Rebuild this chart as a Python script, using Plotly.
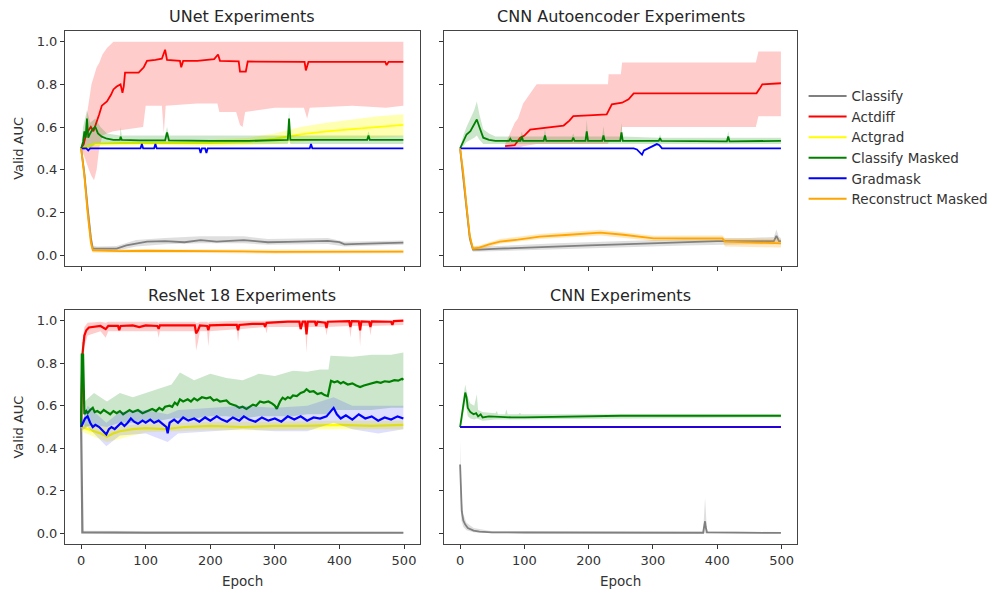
import plotly.graph_objects as go

# ---------------- data (epoch, value) ----------------
SERIES = ["Classify", "Actdiff", "Actgrad", "Classify Masked", "Gradmask", "Reconstruct Masked"]
COLORS = ["#808080", "#ff0000", "#ffff00", "#008000", "#0000ff", "#ffa500"]
BAND_RGBA = ["rgba(128,128,128,0.25)", "rgba(255,0,0,0.2)", "rgba(255,255,0,0.3)",
             "rgba(0,128,0,0.2)", "rgba(0,0,255,0.13)", "rgba(255,165,0,0.25)"]
TITLES = ["UNet Experiments", "CNN Autoencoder Experiments", "ResNet 18 Experiments", "CNN Experiments"]
X_TICKS = [0, 100, 200, 300, 400, 500]
Y_TICKS = [0.0, 0.2, 0.4, 0.6, 0.8, 1.0]

# ---- UNet ----
U_CLS = [(0,0.50),(5,0.38),(10,0.22),(15,0.08),(18,0.03),(25,0.03),(40,0.028),(55,0.03),(70,0.045),(85,0.055),
         (102,0.063),(130,0.065),(160,0.06),(185,0.07),(210,0.063),(230,0.066),(252,0.07),(270,0.065),(289,0.06),
         (320,0.062),(350,0.063),(382,0.066),(400,0.06),(408,0.05),(430,0.052),(460,0.055),(499,0.058)]
U_CLS_BAND = [(0,0.50,0.50),(5,0.34,0.42),(10,0.17,0.27),(15,0.05,0.12),(18,0.02,0.045),(25,0.02,0.04),(55,0.02,0.042),
              (85,0.04,0.07),(130,0.05,0.08),(185,0.055,0.088),(252,0.055,0.088),(289,0.048,0.075),(382,0.052,0.08),
              (408,0.04,0.062),(460,0.045,0.066),(499,0.048,0.068)]
U_ACTDIFF = [(0,0.50),(4,0.52),(8,0.57),(12,0.59),(15,0.60),(19,0.58),(24,0.62),(28,0.66),(32,0.70),(40,0.72),(46,0.75),
             (50,0.776),(55,0.79),(61,0.80),(64,0.76),(66,0.79),(68,0.855),(75,0.855),(89,0.855),(97,0.88),(102,0.91),
             (115,0.915),(125,0.92),(130,0.962),(133,0.915),(153,0.91),(155,0.88),(158,0.91),(180,0.91),(206,0.918),
             (212,0.94),(215,0.91),(244,0.908),(246,0.86),(255,0.86),(258,0.907),(300,0.907),(346,0.905),(348,0.865),
             (352,0.905),(400,0.905),(471,0.905),(473,0.89),(476,0.905),(499,0.905)]
U_ACTDIFF_BAND = [(0,0.50,0.50),(4,0.47,0.56),(8,0.44,0.64),(12,0.40,0.72),(16,0.37,0.80),(20,0.35,0.84),(24,0.40,0.88),
                  (28,0.50,0.90),(33,0.56,0.94),(40,0.57,0.97),(50,0.58,1.0),(75,0.59,1.0),(96,0.60,1.0),(100,0.70,1.0),
                  (125,0.70,1.0),(128,0.57,1.0),(131,0.70,1.0),(180,0.71,1.0),(211,0.71,1.0),(214,0.67,1.0),(240,0.67,1.0),
                  (246,0.61,1.0),(250,0.60,1.0),(254,0.67,1.0),(300,0.69,1.0),(345,0.69,1.0),(350,0.64,1.0),(354,0.69,1.0),
                  (420,0.70,1.0),(472,0.69,1.0),(499,0.70,1.0)]
U_ACTGRAD = [(0,0.50),(20,0.52),(60,0.525),(120,0.525),(200,0.525),(260,0.53),(300,0.545),(340,0.565),(380,0.58),
             (420,0.59),(460,0.60),(499,0.61)]
U_ACTGRAD_BAND = [(0,0.50,0.50),(20,0.51,0.53),(120,0.515,0.535),(200,0.51,0.54),(260,0.515,0.55),(300,0.52,0.57),
                  (340,0.53,0.60),(380,0.54,0.62),(420,0.545,0.635),(460,0.55,0.65),(499,0.555,0.66)]
U_CLSM = [(0,0.50),(3,0.53),(5,0.58),(7,0.55),(9,0.64),(11,0.55),(14,0.57),(18,0.59),(22,0.60),(26,0.57),(32,0.555),
          (40,0.545),(50,0.54),(60,0.54),(61,0.555),(63,0.54),(90,0.537),(130,0.537),(133,0.575),(136,0.537),(200,0.535),
          (260,0.535),(320,0.54),(322,0.64),(324,0.54),(380,0.54),(443,0.54),(445,0.56),(447,0.54),(499,0.54)]
U_CLSM_BAND = [(0,0.50,0.50),(3,0.49,0.60),(9,0.50,0.68),(14,0.50,0.62),(22,0.52,0.64),(30,0.52,0.60),(40,0.52,0.57),
               (60,0.52,0.56),(61,0.52,0.60),(63,0.52,0.56),(130,0.52,0.56),(133,0.52,0.60),(136,0.52,0.56),(320,0.52,0.56),
               (322,0.55,0.68),(324,0.52,0.56),(443,0.52,0.56),(445,0.52,0.58),(447,0.52,0.56),(499,0.52,0.56)]
U_GRADMASK = [(0,0.50),(8,0.50),(11,0.49),(14,0.50),(92,0.50),(94,0.52),(96,0.50),(113,0.50),(115,0.52),(117,0.50),
              (183,0.50),(185,0.478),(187,0.50),(192,0.50),(194,0.478),(196,0.50),(354,0.50),(356,0.52),(358,0.50),(499,0.50)]
U_RECON = [(0,0.50),(5,0.37),(10,0.20),(15,0.06),(18,0.022),(30,0.02),(60,0.018),(100,0.02),(150,0.02),(200,0.018),
           (250,0.017),(300,0.015),(350,0.016),(400,0.016),(450,0.015),(499,0.016)]
U_RECON_BAND = [(0,0.50,0.50),(5,0.33,0.41),(10,0.16,0.24),(15,0.04,0.09),(18,0.012,0.032),(60,0.01,0.027),
                (200,0.01,0.026),(300,0.006,0.023),(499,0.008,0.025)]

# ---- CNN Autoencoder ----
A_CLS = [(0,0.50),(5,0.37),(10,0.22),(15,0.08),(20,0.025),(30,0.025),(60,0.03),(100,0.035),(150,0.04),(200,0.045),
         (250,0.05),(300,0.055),(350,0.06),(400,0.065),(450,0.065),(488,0.065),(492,0.09),(496,0.065),(499,0.065)]
A_CLS_BAND = [(0,0.50,0.50),(5,0.33,0.41),(10,0.18,0.26),(15,0.06,0.11),(20,0.015,0.04),(60,0.018,0.042),(150,0.025,0.055),
              (250,0.035,0.065),(350,0.045,0.075),(450,0.05,0.08),(488,0.05,0.085),(492,0.06,0.12),(496,0.05,0.085),(499,0.05,0.08)]
A_ACTDIFF = [(70,0.51),(85,0.515),(93,0.549),(100,0.56),(109,0.588),(130,0.595),(161,0.607),(170,0.63),(176,0.651),
             (200,0.655),(228,0.659),(236,0.706),(252,0.714),(262,0.73),(270,0.758),(320,0.758),(400,0.758),(461,0.758),
             (466,0.78),(470,0.80),(499,0.805)]
A_ACTDIFF_BAND = [(70,0.50,0.52),(85,0.50,0.62),(90,0.50,0.64),(98,0.51,0.71),(119,0.52,0.80),(230,0.52,0.80),
                  (231,0.53,0.847),(250,0.53,0.847),(252,0.60,0.902),(460,0.60,0.902),(464,0.65,0.954),(499,0.65,0.954)]
A_CLSM = [(0,0.50),(5,0.53),(10,0.565),(16,0.58),(22,0.61),(26,0.635),(30,0.60),(36,0.55),(45,0.54),(55,0.535),(76,0.535),
          (78,0.545),(80,0.535),(94,0.535),(96,0.555),(98,0.535),(130,0.535),(132,0.56),(134,0.535),(174,0.535),(176,0.55),
          (178,0.535),(195,0.535),(197,0.58),(199,0.535),(221,0.535),(223,0.56),(225,0.535),(249,0.535),(251,0.575),
          (253,0.535),(309,0.535),(311,0.548),(313,0.535),(415,0.533),(417,0.555),(419,0.533),(499,0.535)]
A_CLSM_BAND = [(0,0.50,0.50),(5,0.51,0.56),(10,0.53,0.60),(16,0.54,0.64),(22,0.55,0.68),(26,0.56,0.72),(30,0.54,0.66),
               (36,0.52,0.59),(45,0.52,0.57),(55,0.52,0.555),(76,0.52,0.555),(78,0.52,0.56),(80,0.52,0.555),(94,0.52,0.555),
               (96,0.52,0.58),(98,0.52,0.555),(130,0.52,0.555),(132,0.52,0.59),(134,0.52,0.555),(174,0.52,0.555),
               (176,0.52,0.57),(178,0.52,0.555),(195,0.52,0.555),(197,0.52,0.635),(199,0.52,0.555),(221,0.52,0.555),
               (223,0.52,0.605),(225,0.52,0.555),(249,0.52,0.555),(251,0.52,0.62),(253,0.52,0.555),(309,0.52,0.55),
               (311,0.52,0.565),(313,0.52,0.55),(415,0.52,0.55),(417,0.52,0.58),(419,0.52,0.55),(499,0.52,0.55)]
A_GRADMASK = [(0,0.50),(270,0.50),(275,0.495),(280,0.48),(283,0.47),(286,0.49),(292,0.50),(300,0.51),(306,0.52),
              (310,0.515),(314,0.50),(499,0.50)]
A_RECON = [(0,0.50),(5,0.38),(10,0.23),(15,0.09),(20,0.03),(30,0.035),(45,0.05),(62,0.063),(90,0.072),(124,0.086),
           (170,0.095),(218,0.105),(254,0.095),(301,0.078),(350,0.078),(408,0.078),(412,0.063),(450,0.06),(499,0.055)]
A_RECON_BAND = [(0,0.50,0.50),(5,0.34,0.42),(10,0.19,0.27),(15,0.06,0.12),(20,0.02,0.04),(30,0.025,0.045),(62,0.053,0.075),
                (124,0.075,0.098),(218,0.092,0.118),(301,0.066,0.09),(408,0.066,0.092),(412,0.04,0.08),(499,0.035,0.075)]

# ---- ResNet 18 ----
R_CLS = [(0,0.50),(1,0.25),(2,0.005),(100,0.003),(300,0.003),(499,0.003)]
R_CLS_BAND = [(0,0.0,0.50),(2,0.0,0.012),(499,0.0,0.006)]
R_ACTDIFF = [(0,0.50),(1,0.72),(2,0.84),(5,0.93),(8,0.955),(12,0.968),(20,0.972),(30,0.975),(38,0.96),(42,0.975),
             (57,0.975),(59,0.955),(61,0.975),(80,0.978),(90,0.97),(100,0.978),(118,0.975),(120,0.962),(122,0.978),
             (150,0.978),(176,0.978),(178,0.94),(181,0.955),(184,0.978),(195,0.975),(197,0.955),(199,0.978),(225,0.98),
             (241,0.98),(243,0.955),(245,0.98),(265,0.985),(283,0.985),(285,0.97),(287,0.99),(320,0.995),(338,0.995),
             (340,0.96),(343,0.995),(347,0.995),(349,0.935),(351,0.995),(362,0.995),(364,0.975),(366,0.995),(378,0.99),
             (380,0.965),(382,0.995),(415,0.998),(417,0.97),(419,0.998),(430,0.997),(432,0.955),(434,0.997),(446,0.995),
             (448,0.97),(450,0.997),(480,0.995),(482,0.98),(484,0.998),(499,1.0)]
R_ACTDIFF_BAND = [(0,0.50,0.50),(2,0.70,0.90),(5,0.88,0.97),(10,0.93,0.99),(30,0.95,0.995),(38,0.92,0.99),(42,0.95,0.995),
                  (118,0.95,0.995),(120,0.92,0.99),(122,0.95,0.995),(176,0.95,0.995),(178,0.86,0.99),(181,0.90,0.99),
                  (184,0.95,0.995),(195,0.95,0.995),(197,0.88,0.99),(199,0.95,0.995),(241,0.96,1.0),(243,0.90,1.0),
                  (245,0.96,1.0),(285,0.97,1.0),(287,0.94,1.0),(289,0.97,1.0),(347,0.97,1.0),(349,0.85,1.0),(351,0.97,1.0),
                  (378,0.97,1.0),(380,0.93,1.0),(382,0.97,1.0),(415,0.975,1.0),(417,0.92,1.0),(419,0.975,1.0),
                  (430,0.975,1.0),(432,0.88,1.0),(434,0.975,1.0),(446,0.975,1.0),(448,0.93,1.0),(450,0.975,1.0),(499,0.98,1.0)]
R_ACTGRAD = [(0,0.50),(10,0.49),(20,0.48),(30,0.47),(40,0.455),(50,0.47),(60,0.48),(80,0.49),(100,0.495),(130,0.49),
             (160,0.50),(200,0.505),(250,0.50),(300,0.505),(350,0.505),(400,0.51),(450,0.505),(499,0.51)]
R_ACTGRAD_BAND = [(0,0.48,0.52),(40,0.43,0.50),(100,0.475,0.515),(200,0.485,0.525),(300,0.485,0.525),(400,0.49,0.53),
                  (499,0.49,0.53)]
R_CLSM = [(0,0.50),(1,0.84),(3,0.84),(5,0.56),(8,0.575),(10,0.565),(14,0.58),(18,0.59),(21,0.57),(25,0.575),(30,0.565),
          (35,0.58),(40,0.57),(45,0.56),(50,0.575),(55,0.565),(60,0.575),(65,0.56),(70,0.57),(75,0.58),(80,0.57),
          (88,0.58),(95,0.565),(102,0.575),(110,0.585),(116,0.575),(121,0.59),(126,0.58),(130,0.595),(137,0.60),
          (141,0.595),(145,0.615),(149,0.605),(153,0.63),(158,0.62),(165,0.63),(170,0.62),(175,0.635),(180,0.625),
          (187,0.64),(194,0.635),(200,0.64),(205,0.625),(210,0.63),(215,0.62),(225,0.625),(230,0.61),(235,0.605),
          (240,0.60),(245,0.59),(250,0.595),(256,0.585),(261,0.595),(266,0.605),(271,0.60),(277,0.62),(283,0.615),
          (290,0.62),(296,0.61),(300,0.60),(303,0.585),(308,0.62),(312,0.638),(316,0.63),(320,0.64),(324,0.635),
          (328,0.648),(334,0.645),(340,0.66),(345,0.665),(349,0.678),(354,0.665),(360,0.668),(366,0.655),(372,0.66),
          (377,0.65),(382,0.645),(384,0.68),(387,0.717),(392,0.71),(397,0.715),(402,0.705),(406,0.712),(413,0.70),
          (420,0.705),(426,0.695),(432,0.688),(438,0.695),(445,0.70),(451,0.705),(458,0.712),(464,0.708),(470,0.715),
          (477,0.712),(485,0.72),(491,0.718),(497,0.727),(499,0.722)]
R_CLSM_BAND = [(0,0.50,0.50),(1,0.70,0.90),(3,0.70,0.90),(5,0.50,0.62),(20,0.51,0.66),(40,0.50,0.62),(60,0.52,0.66),
               (80,0.52,0.64),(100,0.53,0.66),(121,0.53,0.68),(140,0.54,0.70),(153,0.54,0.756),(175,0.54,0.72),
               (200,0.55,0.75),(225,0.55,0.73),(250,0.54,0.72),(275,0.55,0.75),(300,0.55,0.74),(328,0.55,0.765),
               (350,0.56,0.76),(370,0.56,0.77),(383,0.56,0.77),(386,0.58,0.835),(420,0.58,0.83),(450,0.58,0.84),
               (480,0.59,0.84),(499,0.59,0.85)]
R_GRADMASK = [(0,0.50),(3,0.52),(6,0.54),(10,0.55),(14,0.52),(18,0.50),(22,0.51),(28,0.50),(34,0.48),(39,0.465),(43,0.49),
              (47,0.50),(52,0.49),(58,0.51),(62,0.52),(67,0.505),(72,0.52),(77,0.54),(82,0.525),(88,0.515),(95,0.53),
              (100,0.52),(107,0.535),(113,0.52),(120,0.53),(126,0.515),(132,0.50),(134,0.47),(137,0.52),(144,0.535),
              (150,0.52),(158,0.545),(166,0.53),(175,0.54),(183,0.525),(192,0.545),(200,0.53),(210,0.55),(218,0.535),
              (226,0.525),(235,0.545),(245,0.53),(252,0.55),(260,0.535),(270,0.525),(280,0.545),(290,0.53),(300,0.54),
              (310,0.525),(320,0.55),(330,0.535),(340,0.55),(350,0.53),(360,0.545),(370,0.54),(380,0.55),(386,0.57),
              (391,0.59),(396,0.56),(402,0.54),(410,0.555),(420,0.535),(430,0.56),(440,0.54),(450,0.55),(460,0.53),
              (470,0.545),(480,0.535),(490,0.55),(499,0.54)]
R_GRADMASK_BAND = [(0,0.48,0.52),(10,0.50,0.60),(39,0.41,0.52),(60,0.46,0.57),(100,0.47,0.58),(134,0.43,0.56),
                   (150,0.47,0.58),(200,0.48,0.59),(250,0.49,0.60),(300,0.48,0.59),(350,0.48,0.60),(391,0.52,0.64),
                   (420,0.49,0.60),(460,0.47,0.60),(499,0.49,0.60)]

# ---- CNN ----
C_CLS = [(0,0.324),(1,0.20),(2.6,0.104),(5,0.06),(8,0.041),(12,0.025),(21,0.013),(30,0.008),(50,0.005),(100,0.004),
         (200,0.003),(300,0.003),(378,0.003),(380,0.04),(381,0.057),(382,0.03),(384,0.005),(499,0.002)]
C_CLS_BAND = [(0,0.20,0.434),(2,0.06,0.17),(5,0.03,0.09),(10,0.015,0.05),(21,0.005,0.025),(50,0.0,0.01),(378,0.0,0.008),
              (381,0.0,0.167),(384,0.0,0.01),(499,0.0,0.006)]
C_ACTDIFF = [(0,0.50),(499,0.50)]
C_CLSM = [(0,0.50),(3,0.56),(6,0.63),(8,0.662),(10,0.64),(12,0.59),(16,0.57),(21,0.56),(25,0.565),(28,0.55),(32,0.56),
          (35,0.545),(45,0.55),(57,0.548),(80,0.545),(100,0.545),(150,0.548),(200,0.552),(250,0.553),(300,0.553),
          (400,0.554),(450,0.553),(499,0.553)]
C_CLSM_BAND = [(0,0.50,0.50),(3,0.52,0.60),(8,0.62,0.70),(12,0.55,0.64),(16,0.54,0.61),(22,0.535,0.60),(26,0.54,0.654),
               (28,0.535,0.58),(35,0.53,0.57),(55,0.535,0.565),(57,0.535,0.575),(59,0.535,0.56),(70,0.535,0.56),
               (72,0.535,0.583),(74,0.535,0.56),(91,0.535,0.56),(93,0.535,0.567),(95,0.535,0.56),(200,0.54,0.56),
               (499,0.545,0.56)]
C_GRADMASK = [(0,0.50),(499,0.50)]

# panel -> list of (series index, mean points, band points)
PANELS = [
    [(0, U_CLS, U_CLS_BAND), (1, U_ACTDIFF, U_ACTDIFF_BAND), (2, U_ACTGRAD, U_ACTGRAD_BAND),
     (3, U_CLSM, U_CLSM_BAND), (4, U_GRADMASK, None), (5, U_RECON, U_RECON_BAND)],
    [(0, A_CLS, A_CLS_BAND), (1, A_ACTDIFF, A_ACTDIFF_BAND), (3, A_CLSM, A_CLSM_BAND),
     (4, A_GRADMASK, None), (5, A_RECON, A_RECON_BAND)],
    [(0, R_CLS, R_CLS_BAND), (1, R_ACTDIFF, R_ACTDIFF_BAND), (2, R_ACTGRAD, R_ACTGRAD_BAND),
     (3, R_CLSM, R_CLSM_BAND), (4, R_GRADMASK, R_GRADMASK_BAND)],
    [(0, C_CLS, C_CLS_BAND), (1, C_ACTDIFF, None), (3, C_CLSM, C_CLSM_BAND), (4, C_GRADMASK, None)],
]

# ---------------- figure ----------------
FONT = "DejaVu Sans"
TXT = "#333333"
fig = go.Figure()

# legend entries (in legend order)
for i, name in enumerate(SERIES):
    fig.add_trace(go.Scatter(x=[None], y=[None], mode="lines", name=name,
                             line=dict(color=COLORS[i], width=2), showlegend=True))

axes_ids = [("x", "y"), ("x2", "y2"), ("x3", "y3"), ("x4", "y4")]
for p, items in enumerate(PANELS):
    xa, ya = axes_ids[p]
    for si, pts, band in items:
        if band is not None:
            bx = [b[0] for b in band] + [b[0] for b in band[::-1]]
            by = [b[2] for b in band] + [b[1] for b in band[::-1]]
            fig.add_trace(go.Scatter(x=bx, y=by, fill="toself", fillcolor=BAND_RGBA[si], mode="lines",
                                     line=dict(width=0), hoverinfo="skip", showlegend=False,
                                     xaxis=xa, yaxis=ya))
        opacity = 0.85 if (p == 3 and si == 4) else 1.0
        lw = 2.2 if p == 2 else 1.8
        fig.add_trace(go.Scatter(x=[q[0] for q in pts], y=[q[1] for q in pts], mode="lines",
                                 line=dict(color=COLORS[si], width=lw), opacity=opacity,
                                 name=SERIES[si], showlegend=False, xaxis=xa, yaxis=ya))

W, H = 995, 591
ML, MR, MT, MB = 65, 198, 31, 47
xdom = [[0.0, 0.4843], [0.5178, 1.0]]
ydom = [[0.5425, 1.0], [0.0, 0.4561]]

def xaxis_cfg(col, row):
    return dict(domain=xdom[col], range=[-25, 524], tickvals=X_TICKS, showticklabels=(row == 1),
                ticks="outside", ticklen=4, tickwidth=1, tickcolor=TXT, showgrid=False, zeroline=False,
                showline=True, mirror=True, linecolor="#444444", linewidth=1,
                tickfont=dict(family=FONT, size=13, color=TXT))

def yaxis_cfg(col, row):
    return dict(domain=ydom[row], range=[-0.05, 1.05], tickvals=Y_TICKS, tickformat=".1f",
                showticklabels=(col == 0), ticks="outside", ticklen=4, tickwidth=1, tickcolor=TXT,
                showgrid=False, zeroline=False, showline=True, mirror=True, linecolor="#444444",
                linewidth=1, tickfont=dict(family=FONT, size=13, color=TXT))

layout = dict(width=W, height=H, margin=dict(l=ML, r=MR, t=MT, b=MB, autoexpand=False), plot_bgcolor="white",
              paper_bgcolor="white", font=dict(family=FONT, size=13, color=TXT),
              legend=dict(x=1.009, y=0.903, xanchor="left", yanchor="top", bgcolor="rgba(0,0,0,0)",
                          font=dict(family=FONT, size=13.5, color=TXT), itemwidth=38, tracegroupgap=0))
for p, (xa, ya) in enumerate(axes_ids):
    col, row = p % 2, p // 2
    xk = "xaxis" if xa == "x" else "xaxis" + xa[1:]
    yk = "yaxis" if ya == "y" else "yaxis" + ya[1:]
    layout[xk] = dict(xaxis_cfg(col, row), anchor=ya)
    layout[yk] = dict(yaxis_cfg(col, row), anchor=xa)
fig.update_layout(**layout)

annotations = []
for p, title in enumerate(TITLES):
    col, row = p % 2, p // 2
    annotations.append(dict(text=title, x=sum(xdom[col]) / 2, y=ydom[row][1], xref="paper", yref="paper",
                            xanchor="center", yanchor="bottom", yshift=3, showarrow=False,
                            font=dict(family=FONT, size=16, color="#262626")))
for row in range(2):
    annotations.append(dict(text="Valid AUC", x=(18.5 - ML) / (W - ML - MR), y=sum(ydom[row]) / 2,
                            xref="paper", yref="paper", xanchor="center", yanchor="middle", textangle=-90,
                            showarrow=False, font=dict(family=FONT, size=13, color=TXT)))
for col in range(2):
    annotations.append(dict(text="Epoch", x=sum(xdom[col]) / 2, y=(544 - 580.7) / (H - MT - MB),
                            xref="paper", yref="paper", xanchor="center", yanchor="middle", showarrow=False,
                            font=dict(family=FONT, size=13.5, color=TXT)))
fig.update_layout(annotations=annotations)

fig.write_html("out.html")
